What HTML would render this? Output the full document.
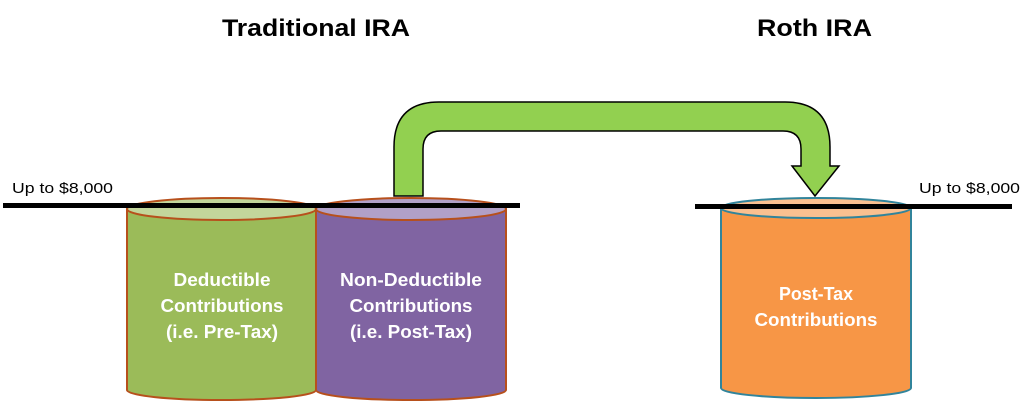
<!DOCTYPE html>
<html><head><meta charset="utf-8"><style>
html,body{margin:0;padding:0;background:#fff;}
svg{display:block;}
text{font-family:"Liberation Sans",sans-serif;font-weight:bold;}
</style></head><body>
<svg width="1024" height="411" viewBox="0 0 1024 411">
<text x="222" y="36" font-size="24" fill="#000" textLength="188" lengthAdjust="spacingAndGlyphs">Traditional IRA</text>
<text x="757" y="36" font-size="24" fill="#000" textLength="115" lengthAdjust="spacingAndGlyphs">Roth IRA</text>

<path d="M394,196 L394,147 Q394,102 439,102 L785,102 Q830,102 830,147 L830,166 L839,166 L815,196 L792,166 L801,166 L801,149 Q801,131 783,131 L441,131 Q423,131 423,149 L423,196 Z" fill="#92d050" stroke="#000" stroke-width="1.5"/>

<path d="M127,209 L127,390 A94.5,10 0 0 0 316,390 L316,209 Z" fill="#9bbb59" stroke="#b7501c" stroke-width="2"/>
<ellipse cx="221.5" cy="209" rx="94.5" ry="11" fill="#c3d69b" stroke="#b7501c" stroke-width="2"/>
<path d="M316,209 L316,390 A95,10 0 0 0 506,390 L506,209 Z" fill="#8064a2" stroke="#b7501c" stroke-width="2"/>
<ellipse cx="411" cy="209" rx="95" ry="11" fill="#b1a0c7" stroke="#b7501c" stroke-width="2"/>
<path d="M721,208 L721,388 A95,10 0 0 0 911,388 L911,208 Z" fill="#f79646" stroke="#31849b" stroke-width="2"/>
<ellipse cx="816" cy="208" rx="95" ry="10" fill="#fac090" stroke="#31849b" stroke-width="2"/>

<rect x="3" y="203" width="517" height="5" fill="#000"/>
<rect x="695" y="204" width="317" height="5" fill="#000"/>

<text x="12" y="193" font-size="15" style="font-weight:normal" fill="#000" textLength="101" lengthAdjust="spacingAndGlyphs">Up to $8,000</text>
<text x="919" y="193" font-size="15" style="font-weight:normal" fill="#000" textLength="101" lengthAdjust="spacingAndGlyphs">Up to $8,000</text>

<g fill="#fff" font-size="18" text-anchor="middle">
<text x="222" y="286" textLength="97" lengthAdjust="spacingAndGlyphs">Deductible</text>
<text x="222" y="312" textLength="123" lengthAdjust="spacingAndGlyphs">Contributions</text>
<text x="222" y="338" textLength="112" lengthAdjust="spacingAndGlyphs">(i.e. Pre-Tax)</text>
<text x="411" y="286" textLength="142" lengthAdjust="spacingAndGlyphs">Non-Deductible</text>
<text x="411" y="312" textLength="123" lengthAdjust="spacingAndGlyphs">Contributions</text>
<text x="411" y="338" textLength="122" lengthAdjust="spacingAndGlyphs">(i.e. Post-Tax)</text>
<text x="816" y="300" textLength="74" lengthAdjust="spacingAndGlyphs">Post-Tax</text>
<text x="816" y="326" textLength="123" lengthAdjust="spacingAndGlyphs">Contributions</text>
</g>
</svg>
</body></html>
